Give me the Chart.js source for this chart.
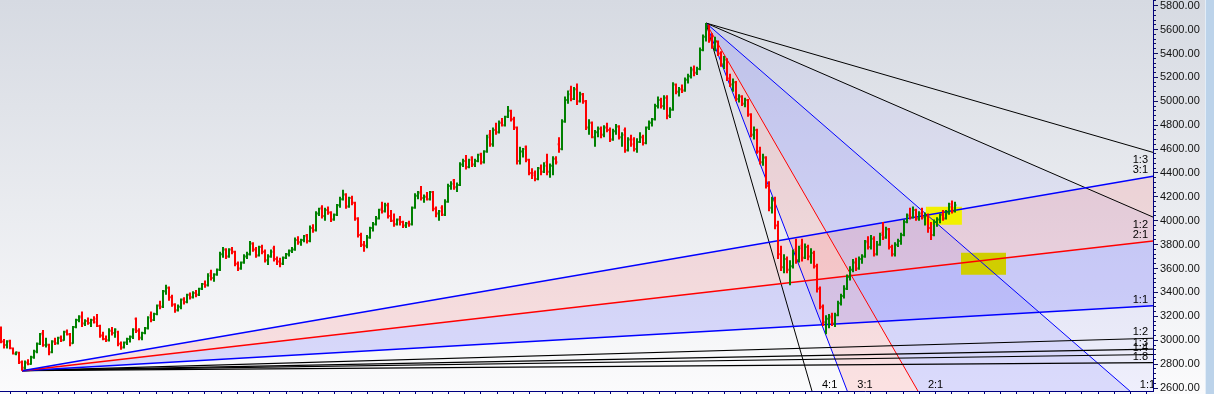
<!DOCTYPE html>
<html><head><meta charset="utf-8">
<script src="https://cdn.jsdelivr.net/npm/chart.js@4/dist/chart.umd.min.js"></script>
<style>
html,body{margin:0;padding:0;background:#fff;overflow:hidden;}
#wrap{position:relative;width:1214px;height:394px;background:linear-gradient(#d6dae2,#fbfbfc);}
#strip{position:absolute;left:1205px;top:0;width:9px;height:394px;background:#bcd3ea;border-left:1px solid #e3edf7;box-sizing:border-box;}
canvas{position:absolute;left:0;top:0;}
</style></head><body>
<div id="wrap"><canvas id="c" width="1205" height="394"></canvas><div id="strip"></div></div>
<script>
const opens = [
3090,2990,2960,2995,2930,2885,2895,2815,2770,2810,
2800,2855,2905,2970,3060,2960,2960,2900,2990,2975,
3020,3000,3070,3050,2975,3110,3170,3200,3140,3160,
3145,3170,3180,3120,3040,3010,3000,3080,3060,3070,
2970,2940,2980,3010,3030,3180,3080,3020,3060,3100,
3210,3170,3220,3290,3280,3410,3440,3360,3300,3250,
3280,3340,3320,3380,3360,3395,3380,3430,3470,3460,
3560,3520,3550,3590,3720,3760,3700,3760,3740,3640,
3600,3650,3700,3720,3810,3760,3710,3780,3740,3670,
3700,3770,3680,3660,3640,3690,3720,3750,3760,3840,
3820,3840,3880,3830,3940,3920,4060,4110,4040,4090,
4070,4010,4050,4130,4180,4220,4120,4190,4150,4020,
3880,3800,3790,3860,3940,3970,4020,4100,4080,4130,
4040,4000,3970,4010,3990,3960,3980,3970,4110,4210,
4240,4190,4200,4180,4240,4100,4060,4110,4050,4160,
4290,4340,4280,4300,4470,4500,4450,4530,4470,4500,
4560,4490,4580,4720,4640,4760,4740,4820,4800,4870,
4920,4850,4780,4500,4580,4620,4510,4400,4400,4350,
4440,4410,4490,4410,4460,4520,4640,4600,4830,5010,
5090,5020,5100,5000,5060,5000,4780,4820,4700,4740,
4770,4720,4780,4760,4680,4750,4790,4700,4760,4590,
4680,4680,4600,4660,4700,4650,4780,4820,4850,4960,
5010,4960,5030,4880,4930,5140,5080,5100,5090,5180,
5210,5270,5240,5270,5430,5540,5620,5520,5460,5500,
5400,5310,5350,5190,5140,5160,5020,5040,4980,5010,
4890,4720,4760,4580,4490,4530,4290,4110,4170,3960,
3720,3610,3680,3590,3620,3760,3670,3790,3690,3780,
3700,3730,3620,3430,3280,3150,3180,3200,3140,3210,
3310,3370,3430,3530,3590,3650,3600,3680,3700,3830,
3780,3850,3720,3800,3900,3860,3930,3780,3720,3800,
3830,3880,3990,4050,4030,4090,4020,4060,4030,4040,
3940,3880,3990,4010,4050,4020,4070,4140,4080];
const highs = [
3115,3010,3000,3005,2935,2905,2900,2830,2830,2840,
2870,2920,2980,3060,3085,3020,2970,3000,3020,3030,
3040,3080,3090,3060,3120,3180,3210,3240,3175,3190,
3180,3200,3220,3130,3070,3040,3100,3110,3100,3080,
2990,2990,3020,3040,3100,3190,3100,3070,3110,3200,
3240,3230,3300,3330,3420,3465,3450,3380,3310,3300,
3350,3360,3390,3400,3410,3420,3440,3480,3500,3560,
3590,3560,3600,3740,3780,3770,3770,3780,3750,3660,
3660,3720,3740,3830,3820,3780,3790,3800,3760,3720,
3760,3790,3700,3690,3700,3730,3760,3780,3860,3870,
3850,3880,3890,3960,3970,4080,4110,4130,4110,4120,
4080,4060,4140,4200,4260,4230,4200,4210,4160,4030,
3900,3830,3880,3950,3990,4040,4100,4160,4150,4150,
4090,4060,4020,4040,4000,3990,4000,4120,4230,4250,
4290,4220,4240,4250,4250,4120,4090,4130,4180,4310,
4330,4350,4320,4490,4520,4550,4520,4540,4520,4560,
4570,4590,4720,4760,4780,4820,4840,4860,4880,4960,
4930,4870,4790,4620,4610,4630,4520,4440,4420,4450,
4470,4490,4560,4480,4540,4540,4700,4850,5040,5090,
5130,5120,5150,5080,5070,5010,4850,4830,4760,4790,
4790,4800,4820,4780,4770,4810,4800,4740,4780,4700,
4720,4700,4690,4740,4720,4790,4840,4860,4980,5040,
5030,5050,5050,4950,5160,5150,5120,5140,5200,5230,
5290,5300,5290,5450,5560,5655,5640,5570,5540,5510,
5420,5380,5360,5230,5190,5170,5060,5050,5030,5020,
4900,4790,4770,4620,4560,4540,4330,4200,4200,4000,
3790,3720,3700,3670,3760,3850,3790,3850,3810,3800,
3770,3750,3640,3450,3300,3210,3220,3230,3230,3330,
3390,3460,3550,3620,3680,3690,3700,3720,3840,3870,
3880,3870,3830,3900,3990,3950,3940,3800,3820,3850,
3900,4010,4060,4110,4120,4100,4080,4110,4070,4060,
3990,4010,4030,4060,4090,4090,4150,4170,4160];
const lows = [
2975,2930,2930,2925,2880,2875,2800,2745,2755,2790,
2795,2845,2890,2960,2945,2940,2875,2890,2960,2965,
2985,2995,3040,2950,2970,3100,3150,3110,3120,3130,
3110,3140,3110,3020,3000,2985,2990,3040,3020,2950,
2920,2930,2960,2980,3010,3060,3000,3000,3050,3090,
3150,3160,3210,3260,3270,3380,3330,3280,3230,3240,
3260,3300,3310,3340,3350,3360,3370,3420,3440,3450,
3500,3490,3540,3580,3690,3680,3690,3720,3620,3580,
3590,3640,3680,3710,3740,3690,3700,3720,3650,3630,
3690,3660,3630,3610,3630,3680,3700,3730,3750,3800,
3790,3820,3810,3820,3900,3910,4040,4020,4000,4050,
3990,4000,4040,4110,4170,4100,4110,4130,4000,3860,
3780,3740,3770,3850,3910,3960,4010,4060,4070,4020,
3990,3950,3960,3960,3940,3940,3950,3960,4100,4180,
4170,4150,4170,4170,4080,4030,4000,4040,4040,4150,
4260,4260,4240,4290,4450,4430,4440,4450,4450,4490,
4470,4480,4570,4620,4620,4720,4730,4790,4790,4860,
4830,4760,4470,4470,4530,4490,4380,4350,4330,4340,
4380,4400,4380,4360,4380,4470,4570,4590,4820,4980,
5000,5010,4970,4990,4980,4760,4720,4690,4620,4700,
4690,4700,4740,4660,4670,4720,4680,4620,4570,4580,
4620,4580,4570,4650,4630,4640,4760,4790,4840,4940,
4940,4930,4850,4860,4920,5060,5040,5070,5080,5150,
5190,5210,5220,5260,5420,5500,5490,5440,5420,5380,
5290,5270,5170,5120,5080,5000,4990,4960,4950,4870,
4700,4680,4560,4470,4460,4270,4080,4060,3930,3680,
3580,3560,3560,3460,3600,3640,3650,3660,3680,3670,
3640,3600,3400,3260,3120,3050,3100,3120,3110,3200,
3290,3350,3420,3500,3570,3580,3590,3640,3690,3760,
3760,3700,3710,3790,3840,3850,3760,3700,3700,3780,
3800,3870,3980,4010,4020,4000,4000,4010,3960,3900,
3840,3870,3950,3980,4000,4010,4050,4060,4070];
const closes = [
2990,2960,2990,2935,2890,2900,2815,2770,2815,2800,
2860,2905,2970,3050,2960,2965,2900,2990,2975,3020,
3000,3070,3050,2975,3110,3170,3190,3140,3160,3145,
3170,3150,3120,3040,3010,3000,3080,3060,3090,2970,
2940,2980,3010,3030,3090,3080,3020,3060,3100,3190,
3170,3220,3290,3280,3410,3440,3360,3300,3250,3280,
3340,3320,3380,3360,3395,3380,3430,3470,3460,3540,
3520,3550,3590,3720,3760,3700,3760,3740,3640,3600,
3650,3700,3720,3810,3760,3710,3780,3740,3670,3700,
3740,3680,3660,3640,3690,3720,3750,3760,3840,3820,
3840,3870,3830,3940,3920,4060,4100,4040,4090,4070,
4010,4050,4130,4180,4220,4120,4190,4150,4020,3880,
3800,3790,3860,3940,3970,4020,4090,4080,4130,4040,
4000,3970,4010,3990,3960,3980,3970,4110,4210,4230,
4190,4200,4180,4240,4100,4060,4080,4050,4160,4290,
4310,4280,4300,4470,4500,4450,4510,4470,4500,4550,
4490,4580,4700,4640,4760,4740,4820,4800,4870,4920,
4850,4780,4500,4580,4600,4510,4400,4380,4350,4440,
4410,4460,4410,4460,4520,4490,4600,4830,5010,5060,
5020,5100,5000,5060,5000,4780,4820,4700,4740,4770,
4720,4780,4760,4680,4750,4790,4700,4720,4590,4680,
4640,4600,4660,4700,4650,4780,4820,4850,4960,5010,
4960,5030,4880,4930,5140,5080,5100,5090,5180,5210,
5260,5240,5270,5430,5540,5620,5520,5460,5500,5400,
5310,5350,5190,5140,5160,5020,5040,4980,5010,4890,
4720,4760,4580,4490,4530,4290,4110,4170,3960,3720,
3610,3680,3590,3620,3740,3670,3770,3690,3780,3700,
3730,3620,3430,3280,3150,3180,3190,3140,3210,3310,
3370,3430,3530,3590,3650,3600,3680,3700,3820,3780,
3850,3720,3800,3880,3860,3930,3780,3720,3800,3830,
3880,3990,4040,4030,4090,4020,4060,4030,4040,3940,
3880,3990,4010,4050,4020,4070,4120,4080,4130];

// Gann fans: origin [bar index, price], price units per bar for 1:1
const lowFanOrigin = [7, 2745];
const lowFanUnit = 1.44;
const lowFanRatios = [3, 2, 1, 1/2, 1/3, 1/4, 1/8];
const lowFanLabels = ['3:1','2:1','1:1','1:2','1:3','1:4','1:8'];
const lowFanColors = ['#0000ff','#ff0000','#0000ff','#000000','#000000','#000000','#000000'];
const topFanOrigin = [235, 5655];
const topFanUnit = 21.8;
const topFanRatios = [4, 3, 2, 1, 1/2, 1/3];
const topFanLabels = ['4:1','3:1','2:1','1:1','1:2','1:3'];
const topFanColors = ['#000000','#0000ff','#ff0000','#0000ff','#000000','#000000'];
const fanEnd = 384;

// highlight boxes: [bar from, bar to], [price low, price high]
const boxABars = [308.3, 320.3], boxAPrices = [3966, 4117];
const boxBBars = [320, 335], boxBPrices = [3548, 3732];

const yTickLabels = [2600,2800,3000,3200,3400,3600,3800,4000,4200,4400,4600,4800,5000,5200,5400,5600,5800];
const yMinorStep = 40;
const xTickStep = 5.413, xTickStart = 3;

const X_MIN = -1/3, X_MAX = 384, Y_MIN = 2575, Y_MAX = 5848;

function ohlcPoints(up) {
  const pts = [];
  for (let i = 0; i < closes.length; i++) {
    if ((closes[i] >= opens[i]) !== up) continue;
    pts.push({x:i-0.45,y:opens[i]},{x:i,y:opens[i]},{x:i,y:highs[i]},{x:i,y:lows[i]},
             {x:i,y:closes[i]},{x:i+0.45,y:closes[i]},{x:i+0.45,y:null});
  }
  return pts;
}
function boxPoints(bars, prices) {
  return [{x:bars[0],y:prices[1]},{x:bars[1],y:prices[1]},{x:bars[1],y:prices[0]},{x:bars[0],y:prices[0]},{x:bars[0],y:prices[1]}];
}
function fanLine(origin, unit, dir, r) {
  return [{x:origin[0], y:origin[1]}, {x:fanEnd, y:origin[1] + dir*unit*r*(fanEnd-origin[0])}];
}

const PINK = 'rgba(255,100,100,0.17)';
const LAV = 'rgba(90,90,255,0.2)';
const LAV2 = 'rgba(90,90,255,0.07)';

const datasets = [
  {data: ohlcPoints(true), borderColor:'#008000', borderWidth:2, pointRadius:0, fill:false, spanGaps:false, tension:0},
  {data: ohlcPoints(false), borderColor:'#ff0000', borderWidth:2, pointRadius:0, fill:false, spanGaps:false, tension:0},
  {data: boxPoints(boxABars, boxAPrices), borderWidth:0, borderColor:'rgba(0,0,0,0)', pointRadius:0, fill:'shape', backgroundColor:'rgb(242,240,0)'},
  {data: boxPoints(boxBBars, boxBPrices), borderWidth:0, borderColor:'rgba(0,0,0,0)', pointRadius:0, fill:'shape', backgroundColor:'rgb(208,206,0)'}
];
const lowStart = datasets.length;
lowFanRatios.forEach((r,k) => {
  let fill = false, bg = 'rgba(0,0,0,0)';
  if (k === 0) { fill = lowStart + 1; bg = PINK; }
  if (k === 1) { fill = lowStart + 2; bg = LAV; }
  datasets.push({data: fanLine(lowFanOrigin, lowFanUnit, 1, r), borderColor: lowFanColors[k],
    borderWidth: k < 3 ? 1.5 : 1.2, pointRadius:0, fill, backgroundColor: bg, tension:0});
});
const topStart = datasets.length;
topFanRatios.forEach((r,k) => {
  let fill = false, bg = 'rgba(0,0,0,0)';
  if (k === 1) { fill = topStart + 2; bg = PINK; }
  if (k === 2) { fill = topStart + 3; bg = LAV; }
  if (k === 3) { fill = topStart + 4; bg = LAV2; }
  datasets.push({data: fanLine(topFanOrigin, topFanUnit, -1, r), borderColor: topFanColors[k],
    borderWidth: 1, pointRadius:0, fill, backgroundColor: bg, tension:0});
});

const fans = [
  {origin: lowFanOrigin, unit: lowFanUnit, dir: 1, ratios: lowFanRatios, labels: lowFanLabels},
  {origin: topFanOrigin, unit: topFanUnit, dir: -1, ratios: topFanRatios, labels: topFanLabels}
];
const fanLabelPlugin = {
  id: 'fanLabels',
  afterDatasetsDraw(chart) {
    const {ctx, chartArea: a, scales: {x, y}} = chart;
    ctx.save();
    ctx.beginPath(); ctx.rect(a.left, a.top, a.right - a.left, a.bottom - a.top); ctx.clip();
    ctx.font = '11px "Liberation Sans", Arial, sans-serif';
    ctx.fillStyle = '#000';
    fans.forEach(fan => {
      fan.ratios.forEach((r, k) => {
        const endP = fan.origin[1] + fan.dir * fan.unit * r * (fanEnd - fan.origin[0]);
        const py = y.getPixelForValue(endP);
        if (py >= a.top && py <= a.bottom) {
          ctx.textAlign = 'right';
          if (fan.dir > 0) { ctx.textBaseline = 'alphabetic'; ctx.fillText(fan.labels[k], a.right - 5, py - 3); }
          else { ctx.textBaseline = 'top'; ctx.fillText(fan.labels[k], a.right - 5, py + 2); }
        } else {
          const i = fan.origin[0] + (fan.origin[1] - Y_MIN) / (fan.unit * r);
          const px = x.getPixelForValue(i);
          ctx.textAlign = 'left'; ctx.textBaseline = 'alphabetic';
          ctx.fillText(fan.labels[k], px + 10, a.bottom - 3);
        }
      });
    });
    ctx.restore();
  }
};

new Chart(document.getElementById('c'), {
  type: 'line',
  data: { datasets },
  plugins: [fanLabelPlugin],
  options: {
    responsive: false, animation: false, parsing: true,
    layout: { padding: 0 },
    plugins: { legend: {display:false}, tooltip: {enabled:false}, filler: {drawTime: 'beforeDatasetsDraw'} },
    elements: { line: { borderJoinStyle: 'miter', borderCapStyle: 'butt' } },
    scales: {
      x: {
        type: 'linear', position: 'bottom', min: X_MIN, max: X_MAX,
        grid: { drawOnChartArea:false, drawTicks:true, tickLength:3, tickColor:'#000080', color:'#000080' },
        border: { display:true, color:'#000080', width:1 },
        ticks: { autoSkip:false, callback: () => '', padding:0, font:{size:1} },
        afterBuildTicks: (s) => { const t=[]; for (let v = xTickStart; v <= X_MAX; v += xTickStep) t.push({value:v}); s.ticks = t; },
        afterFit: (s) => { s.height = 3; s.paddingLeft = 0; s.paddingRight = 0; }
      },
      y: {
        type: 'linear', position: 'right', min: Y_MIN, max: Y_MAX,
        grid: { drawOnChartArea:false, drawTicks:true, tickLength:5, tickColor:'#101060', color:'#101060',
          tickBorderDash: (ctx) => (ctx.tick && yTickLabels.includes(Math.round(ctx.tick.value))) ? [] : [2, 20] },
        border: { display:true, color:'#000080', width:1 },
        ticks: { autoSkip:false, padding:2, color:'#111', font:{family:'"Liberation Sans", Arial, sans-serif', size:11},
          callback: (v) => yTickLabels.includes(Math.round(v)) ? Math.round(v).toFixed(2) : '' },
        afterBuildTicks: (s) => { const t=[]; for (let v = 2600; v <= 5840; v += yMinorStep) t.push({value:v}); s.ticks = t; },
        afterFit: (s) => { s.width = 52; s.paddingTop = 0; s.paddingBottom = 0; }
      }
    }
  }
});
</script>
</body></html>
